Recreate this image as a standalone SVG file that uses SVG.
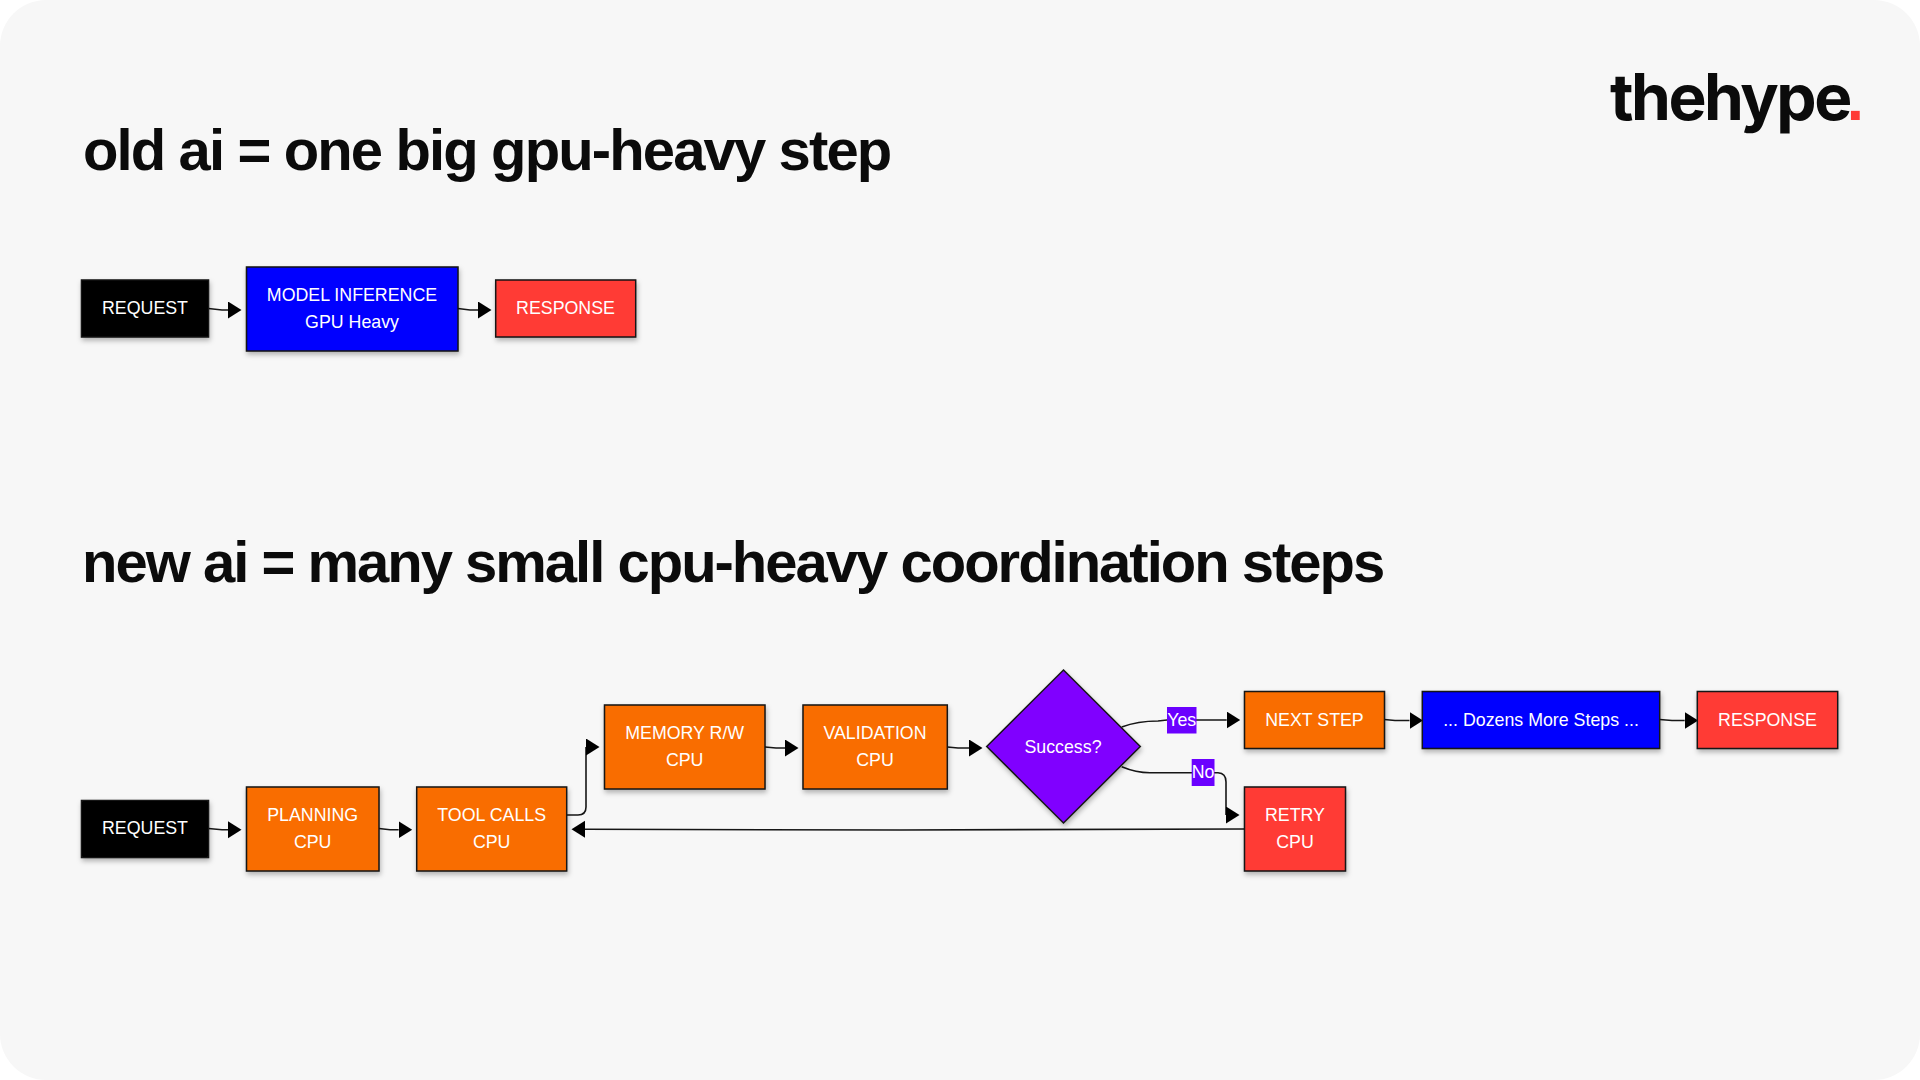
<svg xmlns="http://www.w3.org/2000/svg" width="1920" height="1080" viewBox="0 0 1920 1080">
<style>
text{font-family:"Liberation Sans",Arial,sans-serif}
.t{fill:#fff;font-size:17.8px;text-anchor:middle}
.n{stroke:#161616;stroke-width:1.5;filter:url(#sh)}
.o{fill:#f96d00}.b{fill:#0000ff}.r{fill:#ff3b36}.k{fill:#000}.p{fill:#8000ff}
.h{fill:#0b0b0b;font-weight:700;font-size:58px;letter-spacing:-2px}
.c{fill:none;stroke:#161616;stroke-width:1.6;marker-end:url(#a)}
.lb{fill:#6a00ff}
</style>
<defs>
<filter id="sh" x="-20%" y="-20%" width="140%" height="150%"><feDropShadow dx="1" dy="3" stdDeviation="2.4" flood-color="#000" flood-opacity=".28"/></filter>
<marker id="a" markerUnits="userSpaceOnUse" markerWidth="15" markerHeight="18" refX="0" refY="8.5" orient="0"><path d="M0 0L13.5 8.5L0 17z" fill="#000"/></marker>
<marker id="l" markerUnits="userSpaceOnUse" markerWidth="15" markerHeight="18" refX="0" refY="8.5" orient="180"><path d="M0 0L13.5 8.5L0 17z" fill="#000"/></marker>
</defs>
<rect width="1920" height="1080" fill="#fff"/>
<rect width="1920" height="1080" rx="46" fill="#f7f7f7"/>
<text class="h" x="83" y="170" style="letter-spacing:-1.87px">old ai = one big gpu-heavy step</text>
<text class="h" x="82" y="581.5">new ai = many small cpu-heavy coordination steps</text>
<text id="logo" x="1610" y="120" style="font-family:Inter,'Liberation Sans',sans-serif;font-weight:700;font-size:64px;letter-spacing:-2.5px;fill:#0b0b0b">thehype<tspan dx="-3" fill="#ff3b36" style="font-family:'Liberation Sans',sans-serif;font-size:62px">.</tspan></text>
<g id="connectors">
<path class="c" d="M208.5 308.5L222 310H228"/>
<path class="c" d="M458 308.5L470 310H478"/>
<path class="c" d="M208.5 828.5L222 829.8H228"/>
<path class="c" d="M379 828.5L390 829.8H398.7"/>
<path class="c" d="M566.7 815H578Q586 815 586 807V747"/>
<path class="c" d="M765 747L776 748H785"/>
<path class="c" d="M947.3 747L958 748H969"/>
<path class="c" d="M1121.7 727C1135 722 1145 721 1158 721L1167 720H1226.7"/>
<path class="c" d="M1121.7 766.7C1132 771 1140 772.7 1150 772.7H1218Q1226 773 1226 782V815"/>
<path class="c" d="M1384.3 719.5L1395 720.5H1409.5"/>
<path class="c" d="M1659.7 719.5L1672 720.5H1684.7"/>
<path d="M1244 829L900 830L585 829.3" fill="none" stroke="#161616" stroke-width="1.6" marker-end="url(#l)"/>
</g>
<g id="req1"><rect class="n k" x="81.5" y="280" width="127" height="57"/><text class="t" x="145" y="314">REQUEST</text></g>
<g id="model"><rect class="n b" x="246.5" y="267" width="211.5" height="84"/><text class="t" x="352" y="301">MODEL INFERENCE</text><text class="t" x="352" y="328">GPU Heavy</text></g>
<g id="resp1"><rect class="n r" x="495.7" y="280" width="140" height="57"/><text class="t" x="565.5" y="314">RESPONSE</text></g>
<g id="req2"><rect class="n k" x="81.5" y="800.5" width="127" height="57"/><text class="t" x="145" y="834.3">REQUEST</text></g>
<g id="planning"><rect class="n o" x="246.5" y="787" width="132.5" height="84"/><text class="t" x="312.7" y="821">PLANNING</text><text class="t" x="312.7" y="847.7">CPU</text></g>
<g id="tools"><rect class="n o" x="416.7" y="787" width="150" height="84"/><text class="t" x="491.7" y="821">TOOL CALLS</text><text class="t" x="491.7" y="847.7">CPU</text></g>
<g id="memory"><rect class="n o" x="604.5" y="705" width="160.5" height="84"/><text class="t" x="684.7" y="739.3">MEMORY R/W</text><text class="t" x="684.7" y="766">CPU</text></g>
<g id="validation"><rect class="n o" x="803" y="705" width="144.3" height="84"/><text class="t" x="875" y="739.3">VALIDATION</text><text class="t" x="875" y="766">CPU</text></g>
<g id="success"><path class="n p" d="M1063.5 670L1140.3 746.5L1063.5 823L986.7 746.5z"/><text class="t" x="1063" y="752.7">Success?</text></g>
<g id="yes"><rect class="lb" x="1167" y="707" width="29.5" height="26.5"/><text class="t" x="1181.7" y="726">Yes</text></g>
<g id="no"><rect class="lb" x="1191.7" y="759" width="22.8" height="27"/><text class="t" x="1203" y="778">No</text></g>
<g id="next"><rect class="n o" x="1244.5" y="691.5" width="140" height="57"/><text class="t" x="1314.5" y="726">NEXT STEP</text></g>
<g id="retry"><rect class="n r" x="1244.5" y="787" width="101" height="84"/><text class="t" x="1295" y="821.3">RETRY</text><text class="t" x="1295" y="848">CPU</text></g>
<g id="dozens"><rect class="n b" x="1422.3" y="691.5" width="237.4" height="57"/><text class="t" x="1541" y="726">... Dozens More Steps ...</text></g>
<g id="resp2"><rect class="n r" x="1697.3" y="691.5" width="140.4" height="57"/><text class="t" x="1767.5" y="726">RESPONSE</text></g>
</svg>
